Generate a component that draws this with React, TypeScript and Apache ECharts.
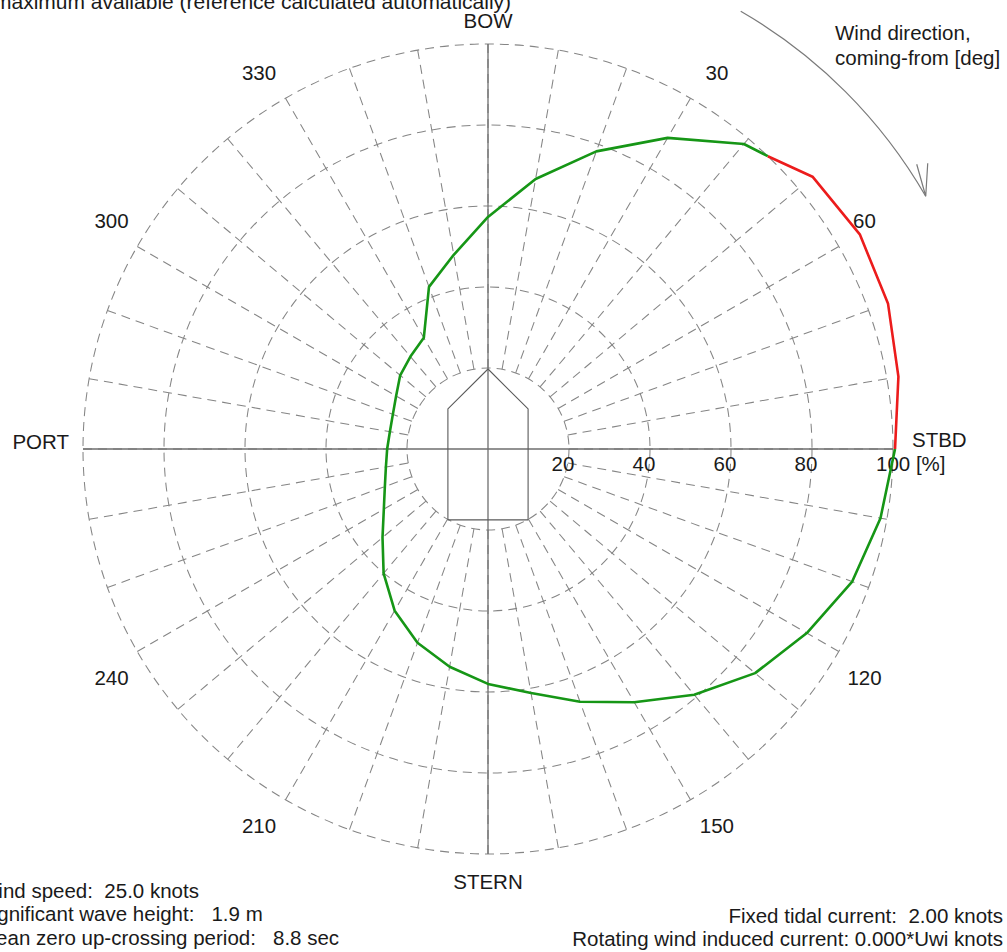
import React, { useEffect, useRef } from "react";
import * as echarts from "echarts";

// Wind direction (coming-from, deg) and capability (% of max available)
const ANGLES = [0, 10, 20, 30, 40, 50, 60, 70, 80, 90, 100, 110, 120, 130, 140, 150, 160, 170,
  180, 190, 200, 210, 220, 230, 240, 250, 260, 270, 280, 290, 300, 310, 320, 330, 340, 350];
const CAPABILITY = [57.3, 67.7, 78.2, 88.7, 98.3, 104.6, 106.0, 105.1, 102.9, 100.5, 98.4, 95.7,
  90.9, 86.1, 79.2, 72.2, 66.4, 61.2, 58.0, 54.6, 50.9, 46.1, 40.1, 34.0, 29.7, 27.1, 25.6, 24.9,
  24.6, 25.0, 26.2, 28.3, 29.8, 31.7, 42.6, 48.7];
// point where the curve crosses 100 % (colour change): [r, angle]
const RED_START = [100, 43.7];
const RADIUS_TICKS = [20, 40, 60, 80, 100];
const ANGLE_LABELS = [30, 60, 120, 150, 210, 240, 300, 330];
// ship outline in % units (x to starboard, y to bow)
const SHIP_X = [0, 9.9, 9.9, -9.9, -9.9, 0];
const SHIP_Y = [19.75, 9.9, -17.5, -17.5, 9.9, 19.75];
const TITLE = "maximum available (reference calculated automatically)";
const INFO_LEFT = [
  "Wind speed:  25.0 knots",
  "Significant wave height:   1.9 m",
  "Mean zero up-crossing period:   8.8 sec",
];
const INFO_RIGHT = ["Fixed tidal current:  2.00 knots", "Rotating wind induced current: 0.000*Uwi knots"];
const WIND_TEXT = ["Wind direction,", "coming-from [deg]"];

const FONT = '"Liberation Sans", Arial, sans-serif';
const FS = 20.5;
const TXT = "#1a1a1a";

function txt(text: string, x: number, y: number, align: string, vAlign = "middle", size = FS) {
  return {
    type: "text",
    silent: true,
    style: {
      text, x, y,
      fill: TXT,
      font: `${size}px ${FONT}`,
      align, textAlign: align,
      verticalAlign: vAlign, textVerticalAlign: vAlign,
    },
  };
}

export default function App() {
  const ref = useRef<HTMLDivElement>(null);
  useEffect(() => {
    if (!ref.current) return;
    const chart = echarts.init(ref.current, undefined, { renderer: "svg" });
    const pts = ANGLES.map((a, i) => [CAPABILITY[i], a]);
    const green = [...pts.filter((p) => p[1] >= 90), ...pts.filter((p) => p[1] <= 40), RED_START];
    const red = [RED_START, ...pts.filter((p) => p[1] >= 50 && p[1] <= 90)];
    const ship = SHIP_X.map((x, i) => {
      const y = SHIP_Y[i];
      const r = Math.sqrt(x * x + y * y);
      let a = (Math.atan2(x, y) * 180) / Math.PI;
      if (a < 0) a += 360;
      return [r, a];
    });
    const grey = "#858585";
    const dash = [9, 6];
    const lineBase = {
      type: "line", coordinateSystem: "polar", polarIndex: 1,
      showSymbol: false, symbol: "none", clip: false, silent: true,
    };
    const option: any = {
      animation: false,
      backgroundColor: "#ffffff",
      polar: [
        { center: [488, 449], radius: [81, 405] },
        { center: [488, 449], radius: [0, 506.25] },
      ],
      angleAxis: [
        {
          polarIndex: 0,
          type: "value", min: 0, max: 360, interval: 10,
          startAngle: 90, clockwise: true,
          axisLine: { show: false }, axisTick: { show: false }, axisLabel: { show: false },
          splitLine: { show: true, lineStyle: { color: grey, width: 1.05, type: dash } },
        },
        {
          polarIndex: 1,
          type: "value", min: 0, max: 360, interval: 10,
          startAngle: 90, clockwise: true,
          axisLine: { show: false }, axisTick: { show: false }, axisLabel: { show: false },
          splitLine: { show: false },
        },
      ],
      radiusAxis: [
        {
          polarIndex: 0,
          type: "value", min: 20, max: 100, interval: 20,
          axisLine: { show: false }, axisTick: { show: false }, axisLabel: { show: false },
          splitLine: { show: true, lineStyle: { color: grey, width: 1.05, type: dash } },
        },
        {
          polarIndex: 1,
          type: "value", min: 0, max: 125, interval: 25,
          axisLine: { show: false }, axisTick: { show: false }, axisLabel: { show: false },
          splitLine: { show: false },
        },
      ],
      series: [
        { ...lineBase, data: [[100, 0], [100, 180]], lineStyle: { color: "#6e6e6e", width: 1.3 }, z: 3 },
        { ...lineBase, data: [[100, 90], [100, 270]], lineStyle: { color: "#6e6e6e", width: 1.3 }, z: 3 },
        { ...lineBase, data: ship, lineStyle: { color: "#5a5a5a", width: 1.1 }, z: 3 },
        { ...lineBase, data: green, lineStyle: { color: "#169616", width: 2.6 }, z: 5 },
        { ...lineBase, data: red, lineStyle: { color: "#ec1c1c", width: 2.6 }, z: 5 },
      ],
    };
    chart.setOption(option);

    const toPx = (r: number, a: number): number[] => {
      let p: any = null;
      try {
        p = chart.convertToPixel({ polarIndex: 1 } as any, [r, a]);
      } catch (e) {
        p = null;
      }
      if (!p || isNaN(p[0])) {
        const rad = (a * Math.PI) / 180;
        p = [488 + r * 4.05 * Math.sin(rad), 449 - r * 4.05 * Math.cos(rad)];
      }
      return p;
    };
    const c = toPx(0, 0);
    const graphics: any[] = [];
    RADIUS_TICKS.forEach((v) => {
      const p = toPx(v, 90);
      if (v === 100) graphics.push(txt(`${v} [%]`, p[0] - 17, p[1] + 14, "left"));
      else graphics.push(txt(String(v), p[0] - 6, p[1] + 14, "center"));
    });
    // angle labels: centred just outside the 100 % circle
    ANGLE_LABELS.forEach((a) => {
      const shift = a % 90 === 30 ? 1.3 : -1.3;
      const p = toPx(108.8, a + shift);
      graphics.push(txt(String(a), p[0], p[1], "center"));
    });
    const bow = toPx(100, 0);
    graphics.push(txt("BOW", bow[0], bow[1] - 24, "center"));
    const stbd = toPx(100, 90);
    graphics.push(txt("STBD", stbd[0] + 19, stbd[1] - 10, "left"));
    const stern = toPx(100, 180);
    graphics.push(txt("STERN", stern[0], stern[1] + 27, "center"));
    const port = toPx(100, 270);
    graphics.push(txt("PORT", port[0] - 14, port[1] - 8, "right"));

    // wind direction arrow
    const arcR = Math.abs(toPx(124.8, 0)[1] - c[1]);
    graphics.push({
      type: "arc",
      silent: true,
      shape: { cx: c[0], cy: c[1], r: arcR, startAngle: -Math.PI / 3, endAngle: -Math.PI / 6, clockwise: true },
      style: { stroke: "#7a7a7a", lineWidth: 1.2, fill: "none" },
    });
    const tip = toPx(124.8, 60);
    graphics.push({
      type: "polyline",
      silent: true,
      shape: { points: [[tip[0] - 9, tip[1] - 32], [tip[0], tip[1]], [tip[0] + 2, tip[1] - 33]] },
      style: { stroke: "#7a7a7a", lineWidth: 1.2, fill: "none" },
    });
    graphics.push(txt(WIND_TEXT[0], 835, 32, "left"));
    graphics.push(txt(WIND_TEXT[1], 835, 57, "left"));

    graphics.push(txt(TITLE, -6, 1, "left", "middle", 21));
    INFO_LEFT.forEach((t, i) => graphics.push(txt(t, -21, 890 + i * 23.5, "left")));
    INFO_RIGHT.forEach((t, i) => graphics.push(txt(t, 1003, 915 + i * 23.5, "right")));

    chart.setOption({ graphic: { elements: graphics } });
    return () => chart.dispose();
  }, []);
  return (
    <div
      ref={ref}
      style={{ position: "fixed", left: 0, top: 0, width: 1007, height: 952, background: "#fff" }}
    />
  );
}
